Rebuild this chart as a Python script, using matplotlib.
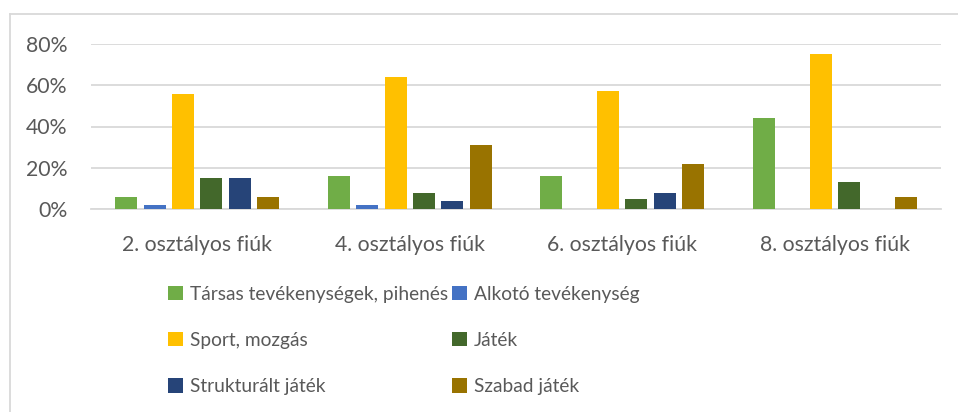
import matplotlib
matplotlib.use("Agg")
import matplotlib.pyplot as plt
import numpy as np
from matplotlib.lines import Line2D
from matplotlib.patches import Patch
from matplotlib.ticker import FuncFormatter

categories = ["2. osztályos fiúk", "4. osztályos fiúk", "6. osztályos fiúk", "8. osztályos fiúk"]
series_names = ["Társas tevékenységek, pihenés", "Alkotó tevékenység", "Sport, mozgás",
                "Játék", "Strukturált játék", "Szabad játék"]
tarsas = [6, 16, 16, 44]
alkoto = [2, 2, 0, 0]
sport = [56, 64, 57, 75]
jatek = [15, 8, 5, 13]
strukturalt = [15, 4, 8, 0]
szabad = [6, 31, 22, 6]
yticks = [0, 20, 40, 60, 80]

series = [tarsas, alkoto, sport, jatek, strukturalt, szabad]
colors = ["#70AD47", "#4472C4", "#FFC000", "#43682B", "#264478", "#997300"]

plt.rcParams['font.family'] = ['Lato', 'DejaVu Sans']
TXT = "#595959"

fig = plt.figure(figsize=(9.58, 4.12), dpi=100)
W, H = 958, 412
ax = fig.add_axes([91 / W, 1 - 209 / H, (941 - 91) / W, (209 - 44) / H])

x = np.arange(len(categories))
step = 0.1333
width = 0.1035
handles = []
for i, (vals, c, name) in enumerate(zip(series, colors, series_names)):
    ax.bar(x + (i - 2.5) * step, vals, width=width, color=c, label=name, zorder=3)
    handles.append(Patch(facecolor=c, label=name))

ax.set_xlim(-0.5, 3.5)
ax.set_ylim(0, 80)
ax.set_yticks(yticks)
ax.yaxis.set_major_formatter(FuncFormatter(lambda v, p: f"{int(v)}%"))
ax.set_xticks(x)
ax.set_xticklabels(categories)
ax.grid(axis='y', color="#D9D9D9", linewidth=1.3, zorder=0)
for s in ["top", "right", "left"]:
    ax.spines[s].set_visible(False)
ax.spines["bottom"].set_color("#D9D9D9")
ax.spines["bottom"].set_linewidth(1.3)
ax.tick_params(axis='both', length=0, labelsize=15.3, colors=TXT)
ax.tick_params(axis='x', pad=19)
ax.tick_params(axis='y', pad=17)

order = [0, 2, 4, 1, 3, 5]
leg = fig.legend([handles[k] for k in order], [series_names[k] for k in order],
                 ncol=2, loc="upper left", bbox_to_anchor=(160 / W, 1 - 278 / H),
                 frameon=False, fontsize=13.8, handlelength=0.8, handleheight=0.8,
                 handletextpad=0.35, columnspacing=0.2, labelspacing=1.52,
                 labelcolor=TXT, borderaxespad=0)

# chart border
fig.add_artist(Line2D([10 / W, 10 / W], [0, 1 - 14 / H], color="#D9D9D9", linewidth=1.3,
                      transform=fig.transFigure))
fig.add_artist(Line2D([10 / W, 1], [1 - 14 / H, 1 - 14 / H], color="#D9D9D9", linewidth=1.3,
                      transform=fig.transFigure))

fig.savefig("out.png", dpi=100)
